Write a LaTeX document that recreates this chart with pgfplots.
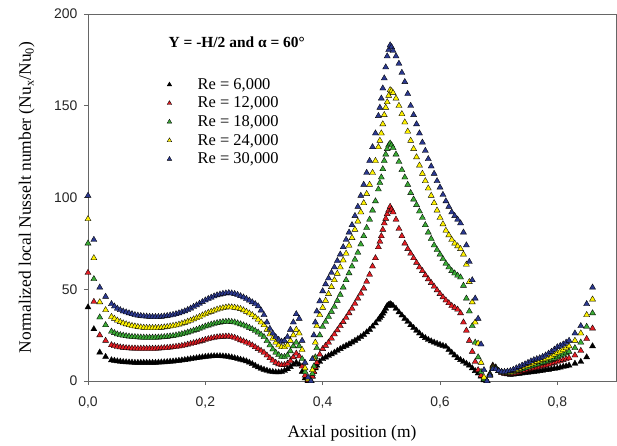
\documentclass[border=0pt]{standalone}
\usepackage{fontspec}
\setmainfont{Liberation Serif}
\setsansfont{Liberation Sans}
\usepackage{pgfplots}
\usepackage{pgfplotstable}
\pgfplotsset{compat=1.18}
\definecolor{reRed}{HTML}{E31E24}
\definecolor{reGreen}{HTML}{3AAA35}
\definecolor{reYellow}{HTML}{FFF200}
\definecolor{reBlue}{HTML}{2B3990}

% x, Re=6000, 12000, 18000, 24000, 30000
\pgfplotstableread{
x k r g y b
0.000 40.2 59 75 88.3 101
0.010 28.3 43.2 55.6 67 77
0.020 15.6 25 34.7 43 51
0.030 13.2 22 30.5 38.7 46
0.040 11.4 19.6 27 35 42
0.045 11.1 19.1 26.2 34 40.7
0.050 10.8 18.7 25.5 33 39.5
0.055 10.6 18.4 25.1 32.2 38.7
0.060 10.4 18.2 24.8 31.5 38
0.065 10.3 18 24.5 31 37.5
0.070 10.2 17.9 24.3 30.5 37
0.075 10.1 17.8 24.1 30.1 36.5
0.080 10 17.8 24 29.8 36
0.085 10 17.7 23.9 29.5 35.7
0.090 10 17.7 23.8 29.3 35.5
0.095 10 17.7 23.7 29.1 35.3
0.100 10 17.7 23.7 29 35.2
0.105 10 17.7 23.7 29 35.1
0.110 10 17.7 23.7 29 35
0.115 10 17.7 23.7 29 35
0.120 10.1 17.8 23.8 29 35
0.125 10.2 17.9 23.9 29.1 35.1
0.130 10.3 18 24 29.3 35.3
0.135 10.4 18.1 24.2 29.5 35.5
0.140 10.6 18.3 24.4 29.8 35.8
0.145 10.7 18.5 24.6 30.1 36.1
0.150 10.9 18.7 24.9 30.4 36.5
0.155 11.1 18.9 25.2 30.8 37
0.160 11.3 19.2 25.6 31.3 37.5
0.165 11.5 19.5 26 31.8 38.1
0.170 11.8 19.9 26.5 32.4 38.8
0.175 12 20.3 27 33 39.6
0.180 12.3 20.7 27.5 33.7 40.5
0.185 12.5 21.1 28 34.3 41.3
0.190 12.8 21.6 28.6 35 42.2
0.195 13 22 29.2 35.8 43.1
0.200 13.2 22.5 29.8 36.5 44
0.205 13.4 22.9 30.3 37.2 44.8
0.210 13.5 23.3 30.8 37.8 45.5
0.215 13.6 23.6 31.2 38.4 46.2
0.220 13.6 23.9 31.6 39 46.8
0.225 13.6 24.1 31.9 39.4 47.2
0.230 13.5 24.2 32.2 39.8 47.6
0.235 13.4 24.3 32.3 40.1 47.8
0.240 13.2 24.3 32.4 40.3 48
0.245 12.9 24 32.2 40.2 47.8
0.250 12.5 23.6 32 40 47.5
0.255 12.1 23 31.5 39.7 47
0.260 11.7 22.3 31 39.3 46.3
0.265 11.3 21.7 30.4 38.6 45.6
0.270 10.8 21 29.8 37.8 44.8
0.275 10.1 20.3 29.1 36.9 43.9
0.280 9.3 19.5 28.3 36 43
0.285 8.4 18.5 27.4 34.8 42
0.290 7.5 17.5 26.5 33.5 40.8
0.295 6.8 16.5 25.3 32 38.5
0.300 6.2 15.5 24 30.5 36
0.305 5.7 14 21.8 28 32
0.310 5.2 12.5 19.5 25.5 28.5
0.315 5 11.2 17.3 23.2 26
0.320 4.8 10 15.5 21 24
0.325 4.8 9.2 14.2 19.5 22.5
0.330 5 8.7 13.2 18.5 21.5
0.335 5.6 8.8 13.2 18.5 22
0.340 6.5 9.5 14 19.5 24
0.345 7.7 11 16.3 22 28
0.350 9 13 19 25 32
0.355 10 15 21 28 36.5
0.360 9 13.5 19 26 34
0.365 5 8 12 17 22
0.370 1.5 3 5 7 10
0.375 0 0.5 1 1 2
0.380 0 0 0 0 0
0.3825 2.5 2.5 4 6 12
0.385 5 5 8 12 25
0.3875 7 7.5 13 21 32
0.390 8.5 10 18 30 38
0.395 10.5 14.5 25 36 43.5
0.400 12 17.5 29.6 40 49
0.405 12.9 19.3 32.3 43.8 52.8
0.410 13.8 21 35 47.5 56
0.415 14.6 23.2 37.8 51.3 59
0.420 15.5 25.5 40.5 55 62
0.425 16.5 27.7 43.8 58.5 65.5
0.430 17.5 30 47 62 69
0.435 18.4 32.2 51 65.8 73
0.440 19.3 34.5 55 69.5 77
0.445 20.1 37 58.8 73.8 81
0.450 21 39.5 62.5 78 85
0.455 22 42.2 66.2 82.5 90
0.460 23 45 70 87 95
0.465 24.1 47.7 74.5 92 101
0.470 25.2 50.5 79 97 107
0.475 26.6 54.2 83.5 102 113.5
0.480 28 58 88 107 120
0.485 29.7 62.5 93 113.5 127.5
0.490 31.5 67 98 120 135
0.495 33.5 73 104.5 127.5 144.5
0.4975 34.5 76 108 131 149
0.500 35.5 79 111 135 154
0.5025 36.8 82.5 115.5 140 159.5
0.505 38 86 120 145 165
0.5075 39.5 88.5 123.5 149 171
0.510 41 91 126.5 152 177
0.5125 41.5 93 128.5 155.5 180.5
0.515 42 95 129.5 158.6 183
0.5175 41.5 93.5 128.5 158 182
0.520 41 92 127 157 180
0.525 39.5 88 123.5 154 177
0.530 37.5 83 119.5 150 173
0.535 35.8 79 115 145.5 168
0.540 34 75 111 141 163
0.545 32.3 72 107 136 156.5
0.550 30.5 69.5 102.5 131 150
0.555 29 67 99 126.5 145
0.560 27.5 64.5 96 122 140
0.565 26 62 92.5 117.5 135
0.570 24.5 60 89 113 130
0.575 23.5 57.7 85 109 125.5
0.580 22.5 55.5 81 105 121
0.585 21.7 53.5 77.5 101 117
0.590 21 51.5 74 97 113
0.595 20.4 49.5 71.5 93 109
0.600 19.8 47.5 69 89 105.5
0.605 19.2 45.7 66.5 85.5 101.5
0.610 18.7 44 64 82 98
0.615 17 42.5 62 79.5 95
0.620 15.5 41 60 77 92
0.625 14 40 58.7 75 90
0.630 12.5 39 57.5 73.5 88
0.635 11.5 37 56.5 72 86
0.640 10.5 32 52 69 81
0.645 9.5 27.5 45 63.5 74
0.650 8.5 22 38 54 65
0.655 7 16 30 43 55
0.660 5.5 10.5 21 32 45
0.665 4.2 6 13 20.5 34
0.670 2.5 3 5 10 20
0.675 0.5 1 1 2 6
0.680 0 0 0 0 0
0.685 4 3.5 3.5 3 3
0.690 8.5 8 7.5 7 6.5
0.695 7.5 7 7 6.5 6.5
0.700 5.5 5.5 5.5 5.5 5.5
0.705 4.5 4.5 4.8 5 5
0.710 4 4.2 4.5 4.8 5
0.715 3.7 4 4.5 4.8 5.2
0.720 3.5 4 4.5 5 5.5
0.725 3.6 4.2 5 5.5 6.2
0.730 3.8 4.5 5.5 6 7
0.735 4 5 6 6.8 7.7
0.740 4.2 5.5 6.5 7.5 8.5
0.745 4.4 5.8 7 8 9.2
0.750 4.6 6.2 7.5 8.5 10
0.755 4.8 6.6 8 9.2 10.8
0.760 5 7 8.5 9.8 11.5
0.765 5.2 7.4 9 10.4 12
0.770 5.5 7.8 9.5 11 12.5
0.775 5.7 8.2 10 11.5 13.2
0.780 6 8.5 10.5 12 14
0.785 6.2 9 11 12.8 15
0.790 6.5 9.5 11.5 13.5 16
0.795 6.7 10 12.2 14.5 17.2
0.800 7 10.5 13 15.5 18.5
0.805 7.4 11 13.8 16.2 19.2
0.810 7.8 11.5 14.5 17 20
0.815 8.1 12 15.2 18 21
0.820 8.5 12.5 16 19 22
0.830 9.5 14 18 22 26
0.840 10.5 16.5 21 26 30
0.850 13 23 29.6 36 42
0.860 19 28.7 37 44.5 51
}\nusselt

\begin{document}
\begin{tikzpicture}
\begin{axis}[
  scale only axis,
  width=528bp, height=367bp,
  xmin=0, xmax=0.9, ymin=0, ymax=200,
  xtick={0,0.2,0.4,0.6,0.8},
  ytick={0,50,100,150,200},
  tick pos=left, tick align=outside,
  major tick length=4bp,
  axis line style={black!60, line width=0.8pt},
  tick style={black!60, line width=0.6pt},
  clip=false,
  /pgf/number format/assume math mode=true,
  tick label style={font=\sffamily\fontsize{14}{16}\selectfont, text=black!85},
  xticklabel style={yshift=-8bp, /pgf/number format/.cd, fixed, fixed zerofill, precision=1, use comma},
  yticklabel style={xshift=-3bp, /pgf/number format/.cd, fixed, precision=0},
  xlabel={Axial position (m)},
  ylabel={Normalized local Nusselt number (Nu\textsubscript{x}/Nu\textsubscript{0})},
  label style={font=\fontsize{17.5}{20}\selectfont},
  xlabel style={at={(axis description cs:0.5,-0.142)}, anchor=center},
  ylabel style={at={(axis description cs:-0.116,0.5)}, anchor=center},
  legend style={draw=none, fill=none, at={(0.144,0.836)}, anchor=north west,
    font=\fontsize{16.5}{18}\selectfont, row sep=2.2bp, column sep=24bp},
  legend image post style={mark size=2.6pt},
  legend cell align=left,
  every axis plot/.append style={only marks, mark=triangle*, mark size=3.5pt},
]
\addplot[mark options={draw=black, fill=black, line width=0.35pt}] table[x=x, y=k] {\nusselt};
\addlegendentry{Re = 6,000}
\addplot[mark options={draw=black, fill=reRed, line width=0.35pt}] table[x=x, y=r] {\nusselt};
\addlegendentry{Re = 12,000}
\addplot[mark options={draw=black, fill=reGreen, line width=0.35pt}] table[x=x, y=g] {\nusselt};
\addlegendentry{Re = 18,000}
\addplot[mark options={draw=black, fill=reYellow, line width=0.35pt}] table[x=x, y=y] {\nusselt};
\addlegendentry{Re = 24,000}
\addplot[mark options={draw=black, fill=reBlue, line width=0.35pt}] table[x=x, y=b] {\nusselt};
\addlegendentry{Re = 30,000}
\node[anchor=west, font=\bfseries\fontsize{15.5}{17}\selectfont] at (rel axis cs:0.146,0.924) {Y = -H/2 and α = 60°};
\end{axis}
\pgfresetboundingbox
\path[use as bounding box] ([xshift=-88bp,yshift=-64bp]current axis.south west) rectangle ([xshift=1bp,yshift=14bp]current axis.north east);
\end{tikzpicture}
\end{document}
